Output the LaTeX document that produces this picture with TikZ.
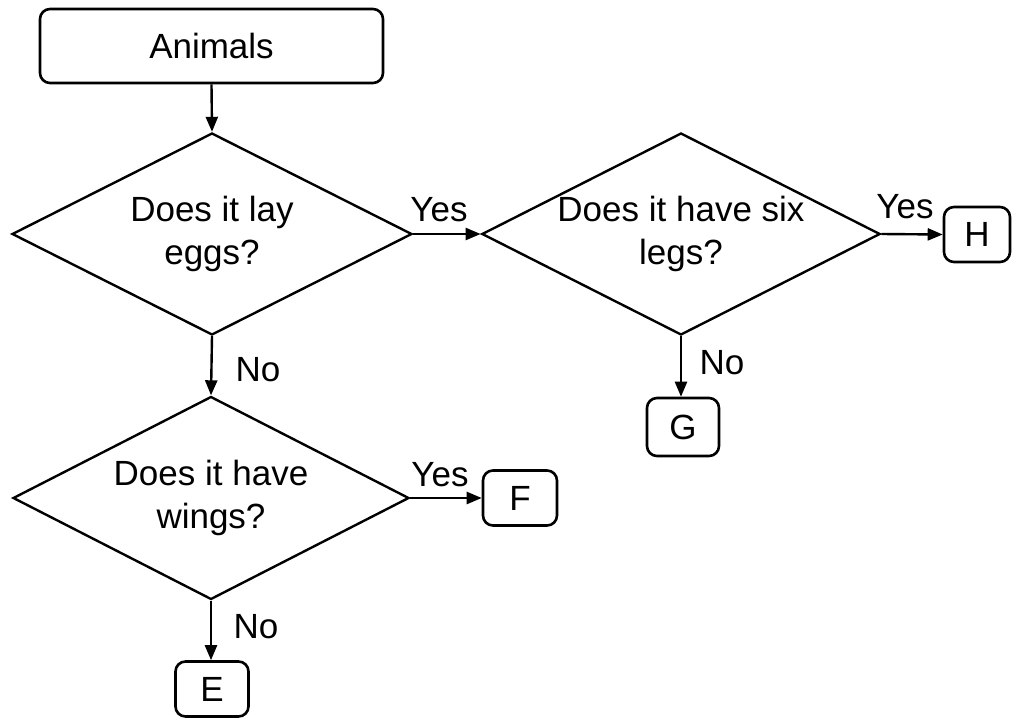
\documentclass[tikz,border=0pt]{standalone}
\usepackage{fontspec}
\setmainfont{Liberation Sans}
\usetikzlibrary{shapes.geometric,arrows.meta}
\begin{document}
\begin{tikzpicture}[x=1pt,y=-1pt,
  every node/.style={font=\fontsize{35}{43}\selectfont},
  box/.style={draw,line width=2.6pt,rounded corners=10pt,inner sep=0pt},
  question/.style={draw,shape=diamond,aspect=2,line width=2.4pt,inner sep=0pt,align=center},
  lbl/.style={inner sep=0pt},
  flow/.style={line width=2.4pt,-{Triangle[length=15pt,width=12pt]}}]
\useasboundingbox (0,0) rectangle (1013,718);
\node[box,minimum width=343pt,minimum height=74pt] (animals) at (211.5,46) {Animals};
\node[question,minimum width=400pt,minimum height=202pt] (d1) at (212,234) {Does it lay\\eggs?};
\node[question,minimum width=396pt,minimum height=202pt] (d2) at (681,234) {Does it have six\\legs?};
\node[question,minimum width=396pt,minimum height=203pt] (d3) at (211,498) {Does it have\\wings?};
\node[box,minimum width=66pt,minimum height=55pt] (h) at (977,234.5) {H};
\node[box,minimum width=72pt,minimum height=58pt] (g) at (683,427) {G};
\node[box,minimum width=74pt,minimum height=55pt] (f) at (520,498) {F};
\node[box,minimum width=73pt,minimum height=55pt] (e) at (212,689) {E};
\draw[flow] (animals.south) -- (d1.north);
\draw[flow] (d1.east) -- (d2.west);
\draw[flow] (d2.east) -- (h.west);
\draw[flow] (d2.south) -- (d2.south |- g.north);
\draw[flow] (d1.south) -- (d3.north);
\draw[flow] (d3.east) -- (f.west);
\draw[flow] (d3.south) -- (d3.south |- e.north);
\node[lbl] (y1) at (439,210) {Yes};
\node[lbl] (y2) at (905,207) {Yes};
\node[lbl] (y3) at (440,475) {Yes};
\node[lbl] (n1) at (258,370) {No};
\node[lbl] (n2) at (722,363) {No};
\node[lbl] (n3) at (256,627) {No};
\end{tikzpicture}
\end{document}
